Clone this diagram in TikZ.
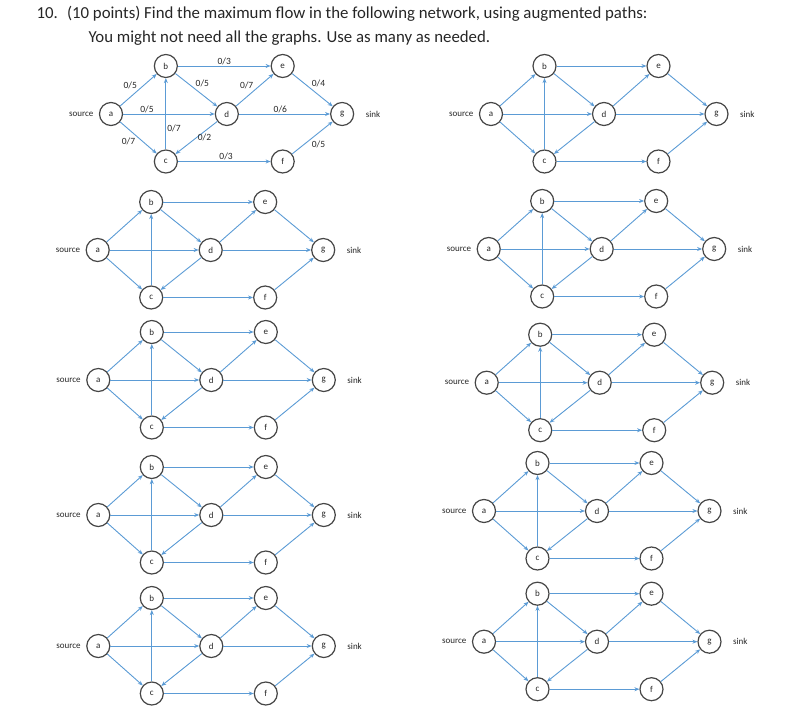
\documentclass[tikz,border=0pt]{standalone}
\usepackage{fontspec}
\setmainfont{Carlito}
\usetikzlibrary{arrows.meta}
\usetikzlibrary{positioning}

\definecolor{flowblue}{RGB}{91,155,213}
\definecolor{ringgray}{RGB}{70,70,70}

\tikzset{
  vertex/.style={circle, draw=ringgray, line width=1.2pt, minimum size=23pt,
                 inner sep=0pt, font=\fontsize{9}{10}\selectfont},
  flow/.style={draw=flowblue, line width=0.9pt,
               -{Stealth[length=5pt,width=4pt]}},
  capacity/.style={inner sep=1pt, font=\fontsize{9.5}{10}\selectfont},
  endlabel/.style={font=\fontsize{9}{10}\selectfont}
}

\begin{document}
\begin{tikzpicture}[x=1pt, y=-1pt, text=black!85]
    \useasboundingbox (0,0) rectangle (786,711);

    % Question
    \node[anchor=west, font=\fontsize{16.8}{18}\selectfont] (q1) at (33,14)
        {10.\hspace{0.55em}(10 points) Find the maximum flow in the following network, using augmented paths:};
    \node[anchor=west, font=\fontsize{16.8}{18}\selectfont] (q2) at (85,38)
        {You might not need all the graphs. Use as many as needed.};

    % First network, with capacities
    \begin{scope}[shift={(111,114)}, xscale=1.025]
        \node[vertex] (a) at (0,0) {a};
        \node[vertex] (b) at (53.5,-48) {b};
        \node[vertex] (c) at (53.5,47.5) {c};
        \node[vertex] (d) at (113,0) {d};
        \node[vertex] (e) at (167.5,-48) {e};
        \node[vertex] (f) at (167.5,47.5) {f};
        \node[vertex] (g) at (225.5,0) {g};
    \end{scope}
    \node[endlabel, left=2pt of a] (src) {source};
    \node[endlabel, right=8pt of g] (snk) {sink};

    \draw[flow] (a) -- node[capacity, pos=0.5, above left] {0/5} (b);
    \draw[flow] (a) -- node[capacity, pos=0.26, above] {0/5} (d);
    \draw[flow] (a) -- node[capacity, pos=0.45, below left] {0/7} (c);
    \draw[flow] (b) -- node[capacity, above] {0/3} (e);
    \draw[flow] (b) -- node[capacity, pos=0.45, above right] {0/5} (d);
    \draw[flow] (c) -- node[capacity, pos=0.3, right] {0/7} (b);
    \draw[flow] (d) -- node[capacity, right] {0/2} (c);
    \draw[flow] (d) -- node[capacity, pos=0.5, above left] {0/7} (e);
    \draw[flow] (d) -- node[capacity, pos=0.455, above] {0/6} (g);
    \draw[flow] (c) -- node[capacity, pos=0.52, above] {0/3} (f);
    \draw[flow] (e) -- node[capacity, pos=0.45, above right] {0/4} (g);
    \draw[flow] (f) -- node[capacity, pos=0.45, below right] {0/5} (g);

    % Blank copies for the augmenting paths
    \foreach \n/\ax/\ay in {R1/491/114, L2/97.7/250, R2/488.7/249,
                            L3/98.3/380, R3/486.7/382.7, L4/98.3/515,
                            R4/484/511, L5/98.3/646, R5/484/641.7} {
        \begin{scope}[shift={(\ax,\ay)}]
            \node[vertex] (\n-a) at (0,0) {a};
            \node[vertex] (\n-b) at (53.5,-48) {b};
            \node[vertex] (\n-c) at (53.5,47.5) {c};
            \node[vertex] (\n-d) at (113,0) {d};
            \node[vertex] (\n-e) at (167.5,-48) {e};
            \node[vertex] (\n-f) at (167.5,47.5) {f};
            \node[vertex] (\n-g) at (225.5,0) {g};
        \end{scope}
        \node[endlabel, left=2pt of \n-a] (\n-src) {source};
        \node[endlabel, right=8pt of \n-g] (\n-snk) {sink};

        \draw[flow] (\n-a) -- (\n-b);
        \draw[flow] (\n-a) -- (\n-d);
        \draw[flow] (\n-a) -- (\n-c);
        \draw[flow] (\n-b) -- (\n-e);
        \draw[flow] (\n-b) -- (\n-d);
        \draw[flow] (\n-c) -- (\n-b);
        \draw[flow] (\n-d) -- (\n-c);
        \draw[flow] (\n-d) -- (\n-e);
        \draw[flow] (\n-d) -- (\n-g);
        \draw[flow] (\n-c) -- (\n-f);
        \draw[flow] (\n-e) -- (\n-g);
        \draw[flow] (\n-f) -- (\n-g);
    }

\end{tikzpicture}
\end{document}
